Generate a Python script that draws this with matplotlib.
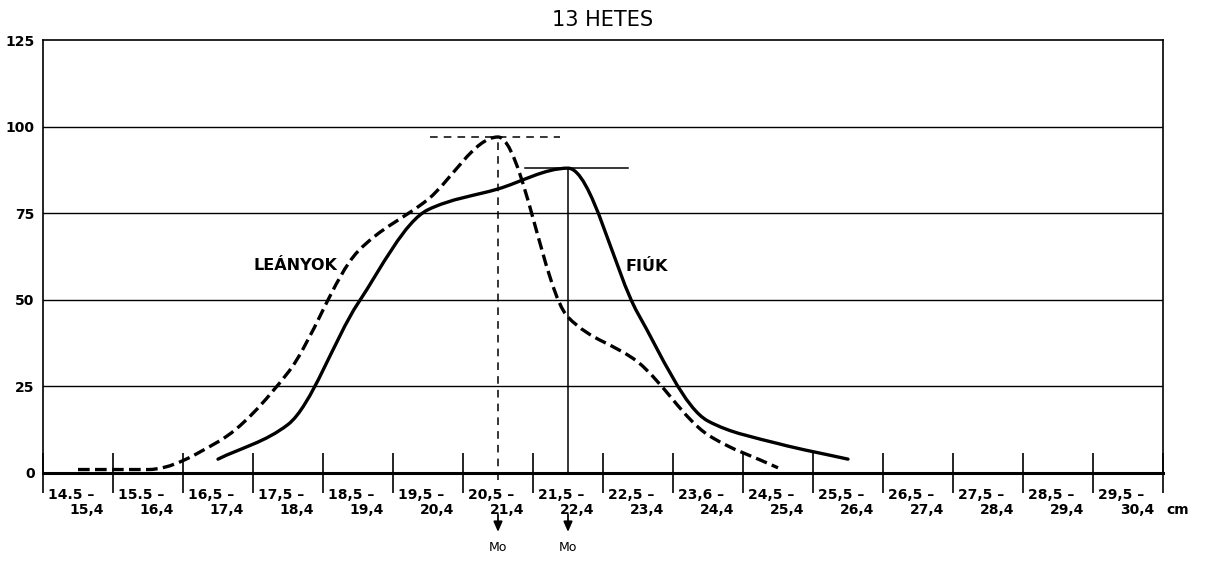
import numpy as np
import matplotlib
matplotlib.use("Agg")
import matplotlib.pyplot as plt
from matplotlib.path import Path
from matplotlib.patches import PathPatch

# height classes (cm), two-line labels as printed
class_top = ["14.5 –", "15.5 –", "16,5 –", "17,5 –", "18,5 –", "19,5 –", "20,5 –", "21,5 –",
             "22,5 –", "23,6 –", "24,5 –", "25,5 –", "26,5 –", "27,5 –", "28,5 –", "29,5 –"]
class_bottom = ["15,4", "16,4", "17,4", "18,4", "19,4", "20,4", "21,4", "22,4",
                "23,4", "24,4", "25,4", "26,4", "27,4", "28,4", "29,4", "30,4"]

# girls (LEÁNYOK), classes 0..10
girls_idx = [0, 1, 2, 3, 4, 5, 6, 7, 8, 9, 10]
girls_val = [1, 1, 9, 29, 64, 79, 97, 45, 32, 11, 1.5]
# boys (FIÚK), classes 2..11
boys_idx = [2, 3, 4, 5, 6, 7, 8, 9, 10, 11]
boys_val = [4, 14, 49, 76, 82, 88, 46, 15, 8.5, 4]

yticks = [0, 25, 50, 75, 100, 125]
mode_girls = 6   # 20,5-21,4
mode_boys = 7    # 21,5-22,4


def smooth_path(xs, ys):
    # cubic bezier through the points, pchip-like tangents (flat at peaks)
    xs = np.asarray(xs, float)
    ys = np.asarray(ys, float)
    d = np.diff(ys) / np.diff(xs)
    m = np.zeros(len(xs))
    m[0], m[-1] = d[0], d[-1]
    for i in range(1, len(xs) - 1):
        if d[i - 1] * d[i] > 0:
            m[i] = 2 / (1 / d[i - 1] + 1 / d[i])
    verts = [(xs[0], ys[0])]
    codes = [Path.MOVETO]
    for i in range(len(xs) - 1):
        h = xs[i + 1] - xs[i]
        verts += [(xs[i] + h / 3, ys[i] + m[i] * h / 3),
                  (xs[i + 1] - h / 3, ys[i + 1] - m[i + 1] * h / 3),
                  (xs[i + 1], ys[i + 1])]
        codes += [Path.CURVE4] * 3
    return Path(verts, codes)


fig = plt.figure(figsize=(12.05, 5.67), dpi=100)
ax = fig.add_axes([43/1205, 94/567, 1120/1205, 433/567])
ax.set_xlim(0, 16)
ax.set_ylim(0, 125)

bold = dict(fontfamily="DejaVu Sans", fontweight="bold", fontsize=10)

# frame
for s in ["left", "right", "top"]:
    ax.spines[s].set_linewidth(1.2)
ax.spines["bottom"].set_linewidth(2.2)

# horizontal grid
for yv in yticks[1:-1]:
    ax.axhline(yv, color="black", lw=1.0)

# y labels
ax.set_yticks(yticks)
ax.set_yticklabels([str(v) for v in yticks], **bold)
ax.tick_params(axis="y", length=0, pad=6)

# class boundary ticks crossing the base line
ax.set_xticks(np.arange(0, 17))
ax.set_xticklabels([])
ax.tick_params(axis="x", direction="inout", length=29, width=1.2)

# class labels
for i in range(16):
    ax.text(i + 0.07, -4.2, class_top[i], ha="left", va="top", **bold)
    ax.text(i + 0.87, -8.8, class_bottom[i], ha="right", va="top", **bold)
ax.text(16.05, -8.8, "cm", ha="left", va="top", **bold)

gx = np.array(girls_idx) + 0.5
bx = np.array(boys_idx) + 0.5
ax.add_patch(PathPatch(smooth_path(gx, girls_val), fill=False, color="black", lw=2.4,
                       ls=(0, (3.5, 1.6)), capstyle="butt", clip_on=False))
ax.add_patch(PathPatch(smooth_path(bx, boys_val), fill=False, color="black", lw=2.4,
                       capstyle="round"))

# mode markers
gpk = max(girls_val)
bpk = max(boys_val)
mg = mode_girls + 0.5
mb = mode_boys + 0.5
ax.plot([mg, mg], [-2, gpk], color="black", lw=1.1, ls=(0, (5, 4)), clip_on=False)
ax.plot([5.53, 7.39], [gpk, gpk], color="black", lw=1.1, ls=(0, (5, 4)))
ax.plot([mb, mb], [0, bpk], color="black", lw=1.1)
ax.plot([6.89, 8.36], [bpk, bpk], color="black", lw=1.1)

for xm in (mg, mb):
    ax.annotate("", xy=(xm, -17.0), xytext=(xm, -12.0), annotation_clip=False,
                arrowprops=dict(arrowstyle="-|>,head_length=0.5,head_width=0.22",
                                color="black", lw=1.3, mutation_scale=12,
                                shrinkA=0, shrinkB=0))
    ax.text(xm, -19.6, "Mo", ha="center", va="top", fontfamily="DejaVu Sans", fontsize=9)

ax.text(3.6, 60, "LEÁNYOK", ha="center", va="center", fontfamily="DejaVu Sans",
        fontweight="bold", fontsize=11.5)
ax.text(8.63, 59.5, "FIÚK", ha="center", va="center", fontfamily="DejaVu Sans",
        fontweight="bold", fontsize=11.5)

fig.text(603/1205, 1 - 20/567, "13 HETES", ha="center", va="center",
         fontfamily="DejaVu Sans", fontsize=15)

fig.savefig("out.png", dpi=100, facecolor="white")
